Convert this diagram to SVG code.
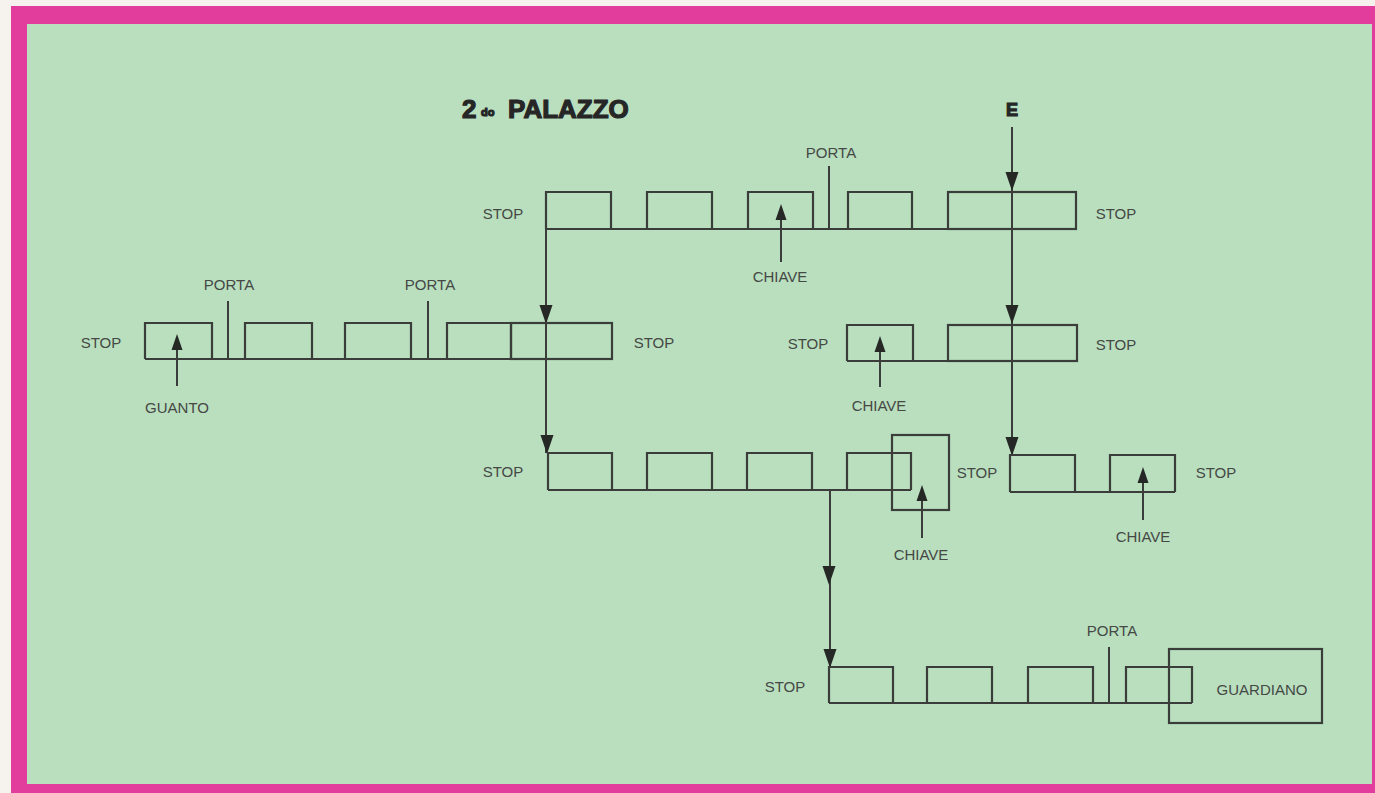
<svg xmlns="http://www.w3.org/2000/svg" xmlns:xlink="http://www.w3.org/1999/xlink" width="1375" height="793" viewBox="0 0 1375 793">
<style>
.ln{fill:none;stroke:#3b3d3b;stroke-width:2}
.bx{fill:none;stroke:#3b3d3b;stroke-width:2.2}
.lb{font-family:"Liberation Sans",Arial,sans-serif;font-size:15px;fill:#454845;text-anchor:middle}
.ttl{font-family:"Liberation Sans",Arial,sans-serif;font-weight:bold;fill:#262626;stroke:#262626;stroke-width:1.2}
</style>
<defs>
<path id="ad" d="M0,0 L-6.5,-19 L6.5,-19 Z" fill="#262826"/>
<path id="au" d="M0,0 L-5.5,16 L5.5,16 Z" fill="#262826"/>
</defs>
<rect x="0" y="0" width="1375" height="793" fill="#f6f3ef"/>
<rect x="11" y="6" width="1364" height="787" fill="#e23c9c"/>
<rect x="27" y="24" width="1345" height="760" fill="#b9dfbf"/>

<g id="title">
<text class="ttl" x="462" y="118" font-size="26">2</text>
<text class="ttl" x="481" y="116" font-size="11" stroke-width="0.5">do</text>
<text class="ttl" x="508" y="118" font-size="26">PALAZZO</text>
<text class="ttl" x="1012" y="116" font-size="18" text-anchor="middle" stroke-width="0.6">E</text>
</g>

<g id="connectors">
<line class="ln" x1="1012" y1="127" x2="1012" y2="455"/>
<use xlink:href="#ad" x="1012" y="191"/>
<use xlink:href="#ad" x="1012" y="324"/>
<use xlink:href="#ad" x="1012" y="456"/>
<line class="ln" x1="546" y1="229" x2="546" y2="453"/>
<use xlink:href="#ad" x="546" y="324"/>
<use xlink:href="#ad" x="547" y="454"/>
<line class="ln" x1="830" y1="490" x2="830" y2="667"/>
<use xlink:href="#ad" x="829" y="585"/>
<use xlink:href="#ad" x="830" y="668"/>
</g>

<g id="row1">
<polyline class="bx" points="546,229 546,192 611,192 611,229"/>
<polyline class="bx" points="647,229 647,192 712,192 712,229"/>
<polyline class="bx" points="748,229 748,192 813,192 813,229"/>
<polyline class="bx" points="848,229 848,192 912,192 912,229"/>
<rect class="bx" x="948" y="192" width="128" height="37"/>
<line class="bx" x1="546" y1="229" x2="1076" y2="229"/>
<line class="ln" x1="829" y1="166" x2="829" y2="229"/>
<text class="lb" x="831" y="158">PORTA</text>
<text class="lb" x="503" y="219">STOP</text>
<text class="lb" x="1116" y="219">STOP</text>
<line class="ln" x1="781" y1="262" x2="781" y2="215"/>
<use xlink:href="#au" x="781" y="204"/>
<text class="lb" x="780" y="282">CHIAVE</text>
</g>

<g id="row2left">
<polyline class="bx" points="145,359 145,323 212,323 212,359"/>
<polyline class="bx" points="245,359 245,323 312,323 312,359"/>
<polyline class="bx" points="345,359 345,323 411,323 411,359"/>
<polyline class="bx" points="447,359 447,323 511,323 511,359"/>
<rect class="bx" x="511" y="323" width="101" height="36"/>
<line class="bx" x1="145" y1="359" x2="612" y2="359"/>
<line class="ln" x1="228" y1="301" x2="228" y2="359"/>
<line class="ln" x1="428" y1="301" x2="428" y2="359"/>
<text class="lb" x="229" y="290">PORTA</text>
<text class="lb" x="430" y="290">PORTA</text>
<text class="lb" x="101" y="348">STOP</text>
<text class="lb" x="654" y="348">STOP</text>
<line class="ln" x1="177" y1="386" x2="177" y2="346"/>
<use xlink:href="#au" x="177" y="334"/>
<text class="lb" x="177" y="413">GUANTO</text>
</g>

<g id="row2right">
<polyline class="bx" points="847,361 847,325 913,325 913,361"/>
<rect class="bx" x="948" y="325" width="129" height="36"/>
<line class="bx" x1="847" y1="361" x2="1077" y2="361"/>
<text class="lb" x="808" y="349">STOP</text>
<text class="lb" x="1116" y="350">STOP</text>
<line class="ln" x1="880" y1="387" x2="880" y2="348"/>
<use xlink:href="#au" x="880" y="336"/>
<text class="lb" x="879" y="411">CHIAVE</text>
</g>

<g id="row3left">
<rect class="bx" x="892" y="435" width="57" height="75"/>
<polyline class="bx" points="548,490 548,453 612,453 612,490"/>
<polyline class="bx" points="647,490 647,453 712,453 712,490"/>
<polyline class="bx" points="747,490 747,453 812,453 812,490"/>
<polyline class="bx" points="847,490 847,453 911,453 911,490"/>
<line class="bx" x1="548" y1="490" x2="911" y2="490"/>
<text class="lb" x="503" y="477">STOP</text>
<text class="lb" x="977" y="478">STOP</text>
<line class="ln" x1="922" y1="538" x2="922" y2="498"/>
<use xlink:href="#au" x="922" y="485"/>
<text class="lb" x="921" y="560">CHIAVE</text>
</g>

<g id="row3right">
<polyline class="bx" points="1010,492 1010,455 1075,455 1075,492"/>
<polyline class="bx" points="1110,492 1110,455 1175,455 1175,492"/>
<line class="bx" x1="1010" y1="492" x2="1175" y2="492"/>
<text class="lb" x="1216" y="478">STOP</text>
<line class="ln" x1="1143" y1="520" x2="1143" y2="480"/>
<use xlink:href="#au" x="1143" y="467"/>
<text class="lb" x="1143" y="542">CHIAVE</text>
</g>

<g id="row4">
<polyline class="bx" points="829,703 829,667 893,667 893,703"/>
<polyline class="bx" points="927,703 927,667 992,667 992,703"/>
<polyline class="bx" points="1028,703 1028,667 1093,667 1093,703"/>
<polyline class="bx" points="1126,703 1126,667 1192,667 1192,703"/>
<line class="bx" x1="829" y1="703" x2="1192" y2="703"/>
<line class="ln" x1="1109" y1="647" x2="1109" y2="703"/>
<text class="lb" x="1112" y="636">PORTA</text>
<text class="lb" x="785" y="692">STOP</text>
</g>

<g id="guardiano">
<rect class="bx" x="1169" y="649" width="153" height="74"/>
<text class="lb" x="1262" y="695">GUARDIANO</text>
</g>
</svg>
